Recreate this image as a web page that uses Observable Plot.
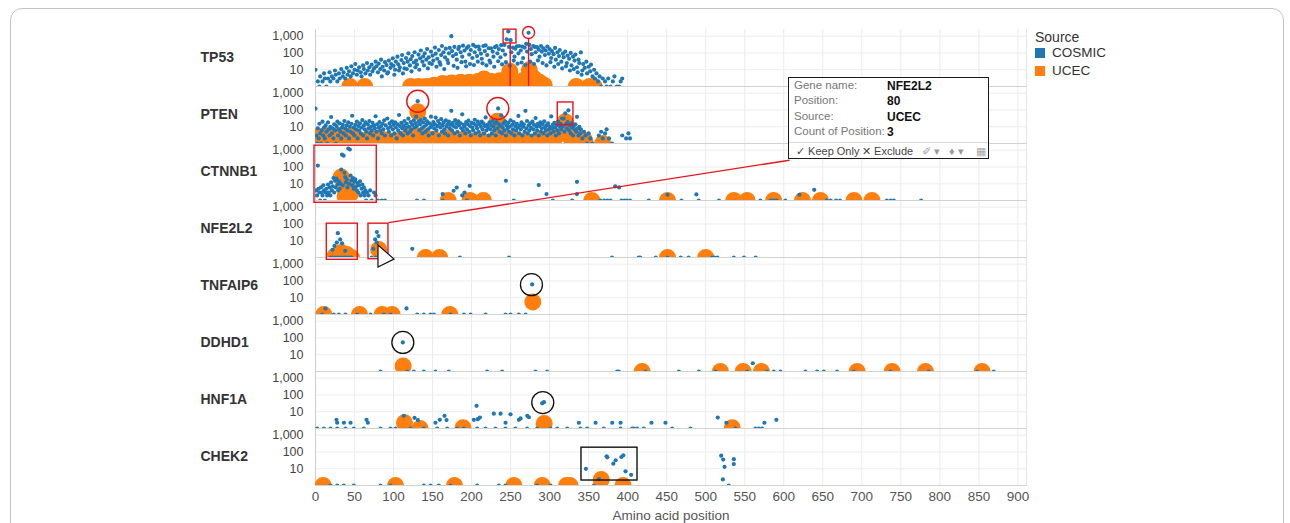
<!DOCTYPE html>
<html>
<head>
<meta charset="utf-8">
<script src="https://cdn.jsdelivr.net/npm/d3@7"></script>
<script src="https://cdn.jsdelivr.net/npm/@observablehq/plot@0.6"></script>
<style>
  body { margin: 0; background: #fff; font-family: "Liberation Sans", Arial, sans-serif; }
  #wrap { position: relative; width: 1290px; height: 523px; overflow: hidden; background: #fff; }
  #border { position: absolute; left: 10px; top: 8px; width: 1272px; height: 580px; border: 1px solid #c4c4c4; border-radius: 12px; }
  #chart { position: absolute; left: 0; top: 0; }
  #legend { position: absolute; left: 1035px; top: 29px; color: #333; }
  #legend .title { position: absolute; left: 0; top: 0; font-size: 14px; white-space: nowrap; }
  #legend .item { position: absolute; left: 0; font-size: 13.5px; white-space: nowrap; }
  #legend .sw { position: absolute; left: 0; top: 3px; width: 10px; height: 10px; }
  #legend .lab { position: absolute; left: 17px; top: 0; }
  #tip { position: absolute; left: 788px; top: 77px; width: 199px; height: 80px; border: 1.5px solid #1a1a1a; background: #fff; font-size: 11.5px; }
  #tip .k { position: absolute; left: 5px; color: #777; white-space: nowrap; }
  #tip .v { position: absolute; left: 98px; color: #111; font-weight: bold; white-space: nowrap; font-size: 12px; }
  #tip .sep { position: absolute; left: 0; right: 0; top: 64px; border-top: 1px solid #d8d8d8; }
  #tip .bar { position: absolute; top: 67px; font-size: 11px; color: #444; white-space: nowrap; }
  #cursor { position: absolute; left: 0; top: 0; }
</style>
</head>
<body>
<div id="wrap">
  <div id="border"></div>
  <div id="chart"></div>
  <div id="legend"></div>
  <div id="tip">
    <div class="k" style="top:1px">Gene name:</div><div class="v" style="top:1px">NFE2L2</div>
    <div class="k" style="top:16px">Position:</div><div class="v" style="top:16px">80</div>
    <div class="k" style="top:32px">Source:</div><div class="v" style="top:32px">UCEC</div>
    <div class="k" style="top:47px">Count of Position:</div><div class="v" style="top:47px">3</div>
    <div class="sep"></div>
    <div class="bar" style="left:7px">✓ Keep Only</div>
    <div class="bar" style="left:73px">✕ Exclude</div>
    <div class="bar" style="left:133px;color:#999">✐ ▾</div>
    <div class="bar" style="left:160px;color:#999">♦ ▾</div>
    <div class="bar" style="left:187px;color:#aaa">▦</div>
  </div>
  <svg id="cursor" width="1290" height="523"><polygon points="378,245 378,267 394,259" fill="#fff" stroke="#111" stroke-width="1.2"/></svg>
</div>
<script>
// ---------- categories / ticks ----------
const genes = ["TP53", "PTEN", "CTNNB1", "NFE2L2", "TNFAIP6", "DDHD1", "HNF1A", "CHEK2"];
const sources = ["COSMIC", "UCEC"];
const sourceColors = ["#1f77b4", "#ff7f0e"];
const xTicks = [0, 50, 100, 150, 200, 250, 300, 350, 400, 450, 500, 550, 600, 650, 700, 750, 800, 850, 900];
const yTicks = [10, 100, 1000];

// ---------- data: [amino acid position, count] ----------
const tp53Cosmic = [[0,10],[3,2],[5,1],[6,4],[9,2],[11,6],[12,3],[14,1],[16,3],[18,7],[19,2],[21,4],[23,3],[25,9],[26,5],[28,2],[30,6],[31,3],[33,11],[35,4],[36,7],[38,3],[40,13],[41,5],[43,8],[45,4],[46,16],[48,6],[50,10],[51,22],[53,5],[54,9],[56,14],[58,7],[59,4],[61,18],[62,11],[64,6],[66,25],[67,9],[69,14],[70,5],[72,20],[73,8],[75,12],[77,30],[78,16],[80,7],[81,23],[83,11],[84,40],[86,15],[88,9],[89,28],[91,19],[92,6],[94,35],[96,13],[97,22],[99,48],[100,17],[102,10],[103,30],[105,60],[106,21],[108,14],[110,38],[111,75],[113,25],[114,12],[116,50],[118,30],[119,95],[121,18],[122,42],[124,65],[126,27],[127,110],[129,35],[130,20],[132,80],[134,48],[135,140],[137,30],[138,62],[140,95],[142,40],[143,170],[145,55],[146,25],[148,120],[150,70],[151,35],[153,210],[154,90],[156,45],[158,150],[159,28],[161,75],[162,260],[164,110],[166,55],[167,180],[169,38],[171,95],[172,200],[174,1000],[175,130],[176,65],[178,230],[180,85],[181,40],[183,170],[184,230],[186,110],[188,60],[189,270],[191,140],[192,30],[194,200],[196,250],[197,80],[199,150],[201,50],[202,300],[204,110],[205,240],[207,65],[209,240],[210,160],[212,90],[213,45],[215,260],[217,130],[218,280],[220,75],[222,190],[223,35],[225,190],[227,120],[228,60],[230,220],[232,260],[233,95],[235,170],[237,55],[238,290],[240,140],[242,300],[243,80],[245,650],[247,1900],[248,230],[250,580],[251,110],[253,210],[255,60],[256,180],[258,250],[260,95],[261,260],[263,140],[265,240],[266,50],[268,210],[270,350],[271,120],[273,1600],[274,300],[276,170],[277,85],[279,260],[281,230],[282,110],[284,220],[286,160],[287,60],[289,260],[290,120],[292,190],[294,75],[295,140],[297,240],[299,90],[300,170],[302,50],[303,130],[305,85],[307,200],[308,40],[310,110],[312,65],[313,150],[315,30],[317,90],[318,55],[320,120],[322,25],[323,70],[325,45],[327,100],[328,18],[330,60],[332,35],[333,80],[335,14],[337,40],[338,25],[340,107],[342,9],[343,22],[345,13],[347,30],[348,6],[350,15],[352,8],[353,20],[355,4],[357,10],[358,3],[360,6],[362,2],[364,4],[366,1],[368,3],[371,2],[373,1],[375,3],[378,1],[381,2],[383,4],[386,1],[389,1],[391,2],[393,3],
  [85,4],[93,7],[101,5],[107,9],[112,6],[117,11],[123,8],[128,14],[133,10],[139,18],[144,12],[149,22],[155,15],[160,20],[165,11],[170,25],[177,17],[182,13],[187,28],[193,16],[198,22],[203,19],[208,30],[214,24],[219,18],[224,26],[229,15],[234,32],[239,21],[244,28],[249,17],[254,35],[259,23],[264,27],[269,19],[275,30],[280,22],[285,36],[291,25],[296,18],[301,28],[306,15],[311,22],[316,12],[321,16],[326,9],[331,11],[336,7],[341,5]];
const tp53Ucec = [[44,1],[63,1],[122,1],[132,1],[142,1],[152,1.2],[163,1.5],[174,1.6],[186,1.8],[197,1.8],[208,2],[216,2.8],[226,2],[236,2.2],[243,2.5],[249,8],[256,2],[262,1.5],[268,2.5],[274,10],[280,3],[287,1.8],[293,1.2],[334,1],[351,1],[357,1]];

const ptenCosmic = [[0,120],[1,3],[2,1],[3,8],[4,2],[5,15],[6,4],[7,1],[8,6],[9,20],[10,3],[11,9],[12,2],[13,12],[14,5],[15,1],[16,18],[17,7],[18,3],[19,10],[20,38],[21,4],[22,8],[23,2],[24,14],[25,6],[26,1],[27,11],[28,20],[29,3],[30,7],[31,16],[32,5],[33,2],[34,9],[35,13],[36,4],[37,22],[38,8],[39,3],[40,12],[41,6],[42,18],[43,2],[44,10],[45,5],[46,15],[47,45],[48,4],[49,9],[50,3],[51,13],[52,7],[53,20],[54,2],[55,11],[56,6],[57,16],[58,4],[59,9],[60,25],[61,3],[62,12],[63,7],[64,18],[65,5],[66,2],[67,14],[68,8],[69,22],[70,4],[71,10],[72,6],[73,17],[74,3],[75,12],[76,8],[77,42],[78,5],[79,14],[80,2],[81,9],[82,19],[83,6],[84,11],[85,4],[86,15],[87,7],[88,24],[89,3],[90,12],[92,31],[93,8],[94,5],[95,16],[96,10],[97,3],[98,21],[99,7],[100,13],[101,4],[102,18],[103,9],[104,2],[105,14],[106,6],[107,50],[108,11],[109,4],[110,17],[111,8],[112,3],[113,12],[114,22],[115,6],[116,9],[117,15],[118,4],[119,30],[120,10],[121,5],[122,19],[123,7],[124,13],[125,3],[126,24],[127,9],[128,16],[129,40],[130,11],[131,333],[132,20],[133,6],[134,14],[135,25],[136,8],[137,4],[138,18],[139,10],[140,30],[141,5],[142,13],[143,21],[144,7],[145,3],[146,16],[147,9],[148,40],[149,12],[150,4],[151,19],[152,8],[153,14],[154,35],[155,6],[156,11],[157,22],[158,3],[159,15],[160,9],[161,28],[162,5],[163,12],[164,18],[165,7],[166,4],[167,24],[168,10],[169,14],[170,3],[171,20],[172,8],[173,13],[174,89],[175,6],[176,17],[177,11],[178,4],[179,25],[180,9],[181,15],[182,5],[183,21],[184,12],[185,3],[186,16],[187,8],[188,55],[189,6],[190,13],[191,10],[192,4],[193,19],[194,7],[195,14],[196,23],[197,5],[198,11],[199,3],[200,17],[201,9],[202,6],[203,15],[204,26],[205,4],[206,12],[207,8],[208,20],[209,5],[210,14],[211,3],[212,10],[213,20],[214,7],[215,16],[216,4],[217,11],[218,36],[219,6],[220,13],[221,9],[222,3],[223,18],[224,7],[225,12],[226,4],[227,22],[228,10],[229,6],[230,15],[231,3],[232,19],[233,8],[234,123],[235,14],[236,5],[237,11],[238,47],[239,4],[240,9],[241,16],[242,6],[243,21],[244,3],[245,12],[246,8],[247,17],[248,5],[249,10],[250,24],[251,4],[252,13],[253,7],[254,19],[255,3],[256,11],[257,6],[258,15],[259,9],[260,44],[261,4],[262,12],[263,7],[264,18],[265,3],[266,10],[267,14],[268,5],[269,89],[270,8],[271,22],[272,4],[273,12],[274,6],[275,16],[276,9],[277,3],[278,20],[279,7],[280,13],[281,4],[282,33],[283,10],[284,6],[285,15],[286,3],[287,11],[288,18],[289,5],[290,8],[291,14],[292,4],[293,21],[294,9],[295,6],[296,12],[297,3],[298,16],[299,7],[300,10],[301,4],[302,41],[303,8],[304,13],[305,5],[306,17],[307,9],[308,3],[309,12],[310,6],[311,20],[312,4],[313,10],[314,15],[315,7],[316,31],[317,11],[318,31],[319,5],[320,62],[321,14],[322,8],[323,19],[324,95],[325,6],[326,12],[327,4],[328,16],[329,9],[330,3],[331,11],[332,7],[333,14],[334,5],[335,39],[336,8],[337,3],[338,10],[339,4],[340,7],[342,2],[344,5],[346,3],[348,1],[350,4],[352,2],[355,1],[363,3],[366,5],[368,2],[371,4],[373,7],[376,2],[380,1],[393,3],[398,2],[401,4],[403,2]];
const ptenUcec = [[3,2.5],[12,3],[20,2.5],[28,3],[36,2.5],[44,2.8],[52,2],[62,1.5],[72,2],[82,2.2],[92,1.6],[100,1.2],[110,1.8],[120,2.8],[129,2.8],[131,77],[140,2.5],[150,1.8],[160,1.5],[170,2.2],[180,1.6],[190,1.8],[200,1.4],[212,1.6],[222,1.2],[233,21],[236,2.8],[245,2.2],[255,1.8],[265,1.4],[275,1.2],[288,1.8],[298,2.2],[308,2.6],[320,20],[325,2.8],[335,2.2],[345,1.5],[368,1]];

const ctnnb1Cosmic = [[1,4],[2,2],[3,120],[4,5],[5,3],[6,1],[7,6],[8,3],[9,2],[10,8],[11,4],[12,1],[13,3],[14,5],[15,2],[16,9],[17,3],[18,6],[19,2],[20,12],[21,4],[22,7],[23,22],[24,3],[25,15],[26,6],[27,20],[28,9],[29,4],[30,14],[31,5],[32,10],[33,70],[34,540],[35,8],[36,470],[37,45],[38,25],[39,12],[40,18],[41,6],[42,1260],[43,10],[44,1100],[45,30],[46,16],[47,8],[48,22],[49,5],[50,13],[51,18],[52,7],[53,4],[54,11],[55,3],[56,8],[57,14],[58,2],[59,5],[60,9],[61,3],[62,6],[63,2],[64,4],[65,1],[66,3],[68,2],[70,4],[72,1],[75,3],[77,2],[80,1],[85,1],[89,1],[130,1],[139,1],[163,1],[163,2.4],[177,3.8],[181,5.9],[188,2],[191,3],[194,1],[197.5,7.5],[244,15],[254,1],[286,8.3],[296,2.4],[304,1],[329,1],[335,13],[335,2.4],[365,1],[370,1],[374,1],[378,1],[384,7],[389,6],[392,1],[396,1],[399,1],[403,1],[427,1],[451,2.2],[469,1],[488,2.3],[491,1],[517,1],[570,1],[583,1],[587,1],[591,1],[602,1],[620,2.2],[639,4.3],[655,1],[660,1],[667,1],[672,1],[732,1],[737,1],[741,1],[776,1]];
const ctnnb1Ucec = [[33,25],[40,7],[38,1.8],[45,2.5],[170,1],[198,1],[215,1],[354,1],[451,1],[536,1],[553,1],[587,1],[624,1],[647,1],[690,1],[713,1]];

const nfe2l2Cosmic = [[28.6,28],[31.6,12],[27.3,7.8],[24.3,4.9],[21.8,2.9],[34,7],[38,2.5],[19,1],[22,1],[25,1],[28,1],[31,1],[34,1],[37,1],[40,1],[43,1],[46,1],[78.6,33],[80.7,19],[76.4,12],[78.6,7.8],[74,3.3],[72,1],[77,1],[124,3.3],[185,1],[248,1],[380,1],[414,1],[416,1],[436,1],[451,1],[468,1],[478,1],[508,1],[511,1],[515,1],[536,1],[549,1],[564,1]];
const nfe2l2Ucec = [[25,1.2],[33,2],[40,1.5],[46,1],[81,3],[141,1],[159,1],[451,1],[500,1]];

const tnfaip6Cosmic = [[12.8,2.25],[8.5,1],[23.5,1],[29.9,1],[38.4,1],[53.4,1],[70.5,1],[87.6,1],[96.1,1],[116.6,2.3],[130.3,1],[138.8,1],[147.4,1],[151.7,1],[173,1],[190.2,1],[198.7,1],[217.9,1],[243.5,1],[249.9,1],[260.6,1],[269.2,1],[277.6,62]];
const tnfaip6Ucec = [[10.7,1],[56.4,1],[85.4,1],[98.2,1],[172.1,1],[278.4,5.6]];

const ddhd1Cosmic = [[111.9,54],[83.3,1],[117.4,1],[126,1],[138.8,1],[153.7,1],[170.8,1],[219.9,1],[239.1,1],[281.8,1],[296.8,1],[386.5,1],[388.6,1],[422.8,1],[465.5,1],[491.2,1],[512.5,1],[553,1],[560.3,3.1],[578.7,1],[587.2,1],[595.7,1],[627.8,1],[642.7,1],[651.3,1],[668.3,1],[689.7,1],[736.6,1],[785.8,1],[847.7,1],[869,1]];
const ddhd1Ucec = [[112.3,2.1],[418.5,1],[518.8,1],[547.9,1],[571.4,1],[694,1],[738.8,1],[781.5,1],[854.1,1]];

const hnf1aCosmic = [[26.9,3.3],[27.8,2.2],[36.4,2.2],[44.9,2.2],[65.4,3.3],[67.1,2.2],[113.2,5.7],[126.9,4.3],[131.2,3.2],[153.7,2.2],[159.3,3.3],[165.3,5.7],[167.9,3.2],[202.9,3.3],[206.3,22.4],[208,3.6],[210.6,4.5],[228.5,7.7],[237.1,7.7],[243.5,2.2],[249.9,7],[260.6,3.3],[262.8,4],[271.3,5.7],[273.4,4.7],[290.5,32.4],[292.7,37],[337.5,2.2],[358.9,2.2],[380.2,2.2],[390.9,2.2],[2.1,1],[10.7,1],[19.2,1],[27.8,1],[38.4,1],[49.1,1],[61.9,1],[83.3,1],[96.1,1],[102.5,1],[121.7,1],[138.8,1],[155.9,1],[168.7,1],[181.5,1],[190,1],[207.2,1],[217.8,1],[230.6,1],[243.4,1],[256.2,1],[271.2,1],[284,1],[301.1,1],[309.7,1],[322.5,1],[339.5,1],[348.1,1],[369.4,1],[390.8,1],[407.8,1],[405.7,1],[412,1],[420.7,1],[430.5,2.2],[448.4,2.2],[457,1],[480.5,1],[515.4,4.5],[526.5,2.2],[538,1],[563.7,1],[568,1],[572.2,1],[575.2,2.2],[590.5,3.3]];
const hnf1aUcec = [[114,2.2],[134,1],[189,1.1],[293,2],[534,1.1]];

const chek2Cosmic = [[346.5,9.8],[363.2,2.4],[373,55],[373.9,48],[381.6,20],[384.6,32],[391.9,50],[394.4,63],[397.2,7],[404.4,4.3],[519.8,60],[522.4,35],[524.1,12.9],[536,37],[536,19],[522,2.3],[529.5,1],[19.2,1],[27.8,1],[36.3,1],[49.1,1],[83.3,1],[96.1,1],[138.8,1],[147.4,1],[158,1],[173,1],[207.2,1],[234.9,1],[243.4,1],[284,1],[301.1,1],[356.6,1]];
const chek2Ucec = [[9.8,1],[102.5,1],[178.1,1],[254.2,1],[290.5,1],[321.7,1],[326,1],[366.1,2.3],[394.1,1]];

// ---------- annotations (in data units) ----------
const redRects = [
  {gene: "TP53", x1: 241, x2: 257.5, y1: 369, y2: 2450},
  {gene: "PTEN", x1: 310.4, x2: 330.5, y1: 12.5, y2: 279},
  {gene: "CTNNB1", x1: -1.3, x2: 78.5, y1: 0.73, y2: 1850},
  {gene: "NFE2L2", x1: 14.5, x2: 54.2, y1: 0.73, y2: 104},
  {gene: "NFE2L2", x1: 67.9, x2: 93.5, y1: 0.79, y2: 104}
];
const redStems = [
  {gene: "TP53", x: 249.5, y1: 1, y2: 369},
  {gene: "TP53", x: 273, y1: 1, y2: 730}
];
const redSmallCircles = [{gene: "TP53", x: 273, y: 1660}];
const redCircles = [{gene: "PTEN", x: 131, y: 333}, {gene: "PTEN", x: 233.6, y: 123}];
const blackCircles = [{gene: "TNFAIP6", x: 276.7, y: 60}, {gene: "DDHD1", x: 111.9, y: 54}, {gene: "HNF1A", x: 291.2, y: 35}];
const blackRects = [{gene: "CHEK2", x1: 340.8, x2: 412.6, y1: 1.98, y2: 180}];
const tipLink = [{gene: "NFE2L2", x1: 93.5, y1: 119, x2: 607.3, y2: 628000}];

// ---------- build tables ----------
const toRows = (gene, source, arr) => arr.map(([pos, count]) => ({gene, source, pos, count}));
const cosmic = [
  ...toRows("TP53", "COSMIC", tp53Cosmic), ...toRows("PTEN", "COSMIC", ptenCosmic),
  ...toRows("CTNNB1", "COSMIC", ctnnb1Cosmic), ...toRows("NFE2L2", "COSMIC", nfe2l2Cosmic),
  ...toRows("TNFAIP6", "COSMIC", tnfaip6Cosmic), ...toRows("DDHD1", "COSMIC", ddhd1Cosmic),
  ...toRows("HNF1A", "COSMIC", hnf1aCosmic), ...toRows("CHEK2", "COSMIC", chek2Cosmic)
];
const ucec = [
  ...toRows("TP53", "UCEC", tp53Ucec), ...toRows("PTEN", "UCEC", ptenUcec),
  ...toRows("CTNNB1", "UCEC", ctnnb1Ucec), ...toRows("NFE2L2", "UCEC", nfe2l2Ucec),
  ...toRows("TNFAIP6", "UCEC", tnfaip6Ucec), ...toRows("DDHD1", "UCEC", ddhd1Ucec),
  ...toRows("HNF1A", "UCEC", hnf1aUcec), ...toRows("CHEK2", "UCEC", chek2Ucec)
];

const chart = Plot.plot({
  width: 1290,
  height: 523,
  marginTop: 28,
  marginBottom: 37,
  marginLeft: 315,
  marginRight: 264,
  style: {fontFamily: "'Liberation Sans', Arial, sans-serif", background: "transparent"},
  x: {domain: [0, 911]},
  y: {type: "log", domain: [1, 2500]},
  fy: {domain: genes, padding: 0, axis: null},
  color: {domain: sources, range: sourceColors},
  marks: [
    Plot.gridX(xTicks, {stroke: "#ebebeb", strokeOpacity: 1}),
    Plot.gridY(yTicks, {stroke: "#ededed", strokeOpacity: 1}),
    Plot.frame({anchor: "right", stroke: "#e6e6e6"}),
    Plot.frame({anchor: "bottom", stroke: "#d2d2d2"}),
    Plot.ruleX([0], {stroke: "#cdcdcd"}),
    Plot.axisY(yTicks, {tickSize: 0, tickPadding: 12, tickFormat: d3.format(","), fontSize: 12.5, fill: "#444", label: null}),
    Plot.axisX(xTicks, {tickSize: 0, tickPadding: 6, fontSize: 13.5, fill: "#555", label: "Amino acid position", labelAnchor: "center", labelArrow: "none"}),
    Plot.text(genes, {fy: d => d, text: d => d, frameAnchor: "left", dx: -115, textAnchor: "start", fontWeight: "bold", fontSize: 14, fill: "#333"}),
    Plot.dot(ucec, {x: "pos", y: "count", fy: "gene", r: 8.5, fill: "source", clip: true}),
    Plot.dot(cosmic, {x: "pos", y: "count", fy: "gene", r: 2.1, fill: "source", clip: true}),
    Plot.rect(redRects, {x1: "x1", x2: "x2", y1: "y1", y2: "y2", fy: "gene", fill: "none", stroke: "#e8141c", strokeWidth: 1.4}),
    Plot.ruleX(redStems, {x: "x", y1: "y1", y2: "y2", fy: "gene", stroke: "#e8141c", strokeWidth: 1.4}),
    Plot.dot(redSmallCircles, {x: "x", y: "y", fy: "gene", r: 6, fill: "none", stroke: "#e8141c", strokeWidth: 1.4}),
    Plot.dot(redCircles, {x: "x", y: "y", fy: "gene", r: 11, fill: "none", stroke: "#e8141c", strokeWidth: 1.4}),
    Plot.dot(blackCircles, {x: "x", y: "y", fy: "gene", r: 11, fill: "none", stroke: "#111", strokeWidth: 1.3}),
    Plot.rect(blackRects, {x1: "x1", x2: "x2", y1: "y1", y2: "y2", fy: "gene", fill: "none", stroke: "#111", strokeWidth: 1.4}),
    Plot.link(tipLink, {x1: "x1", y1: "y1", x2: "x2", y2: "y2", fy: "gene", stroke: "#e8141c", strokeWidth: 1.3})
  ]
});
document.getElementById("chart").appendChild(chart);

// legend
const legend = document.getElementById("legend");
legend.innerHTML = `<div class="title">Source</div>` + sources.map((s, i) =>
  `<div class="item" style="top:${16 + i * 18}px"><span class="sw" style="background:${sourceColors[i]}"></span><span class="lab">${s}</span></div>`
).join("");
</script>
</body>
</html>
